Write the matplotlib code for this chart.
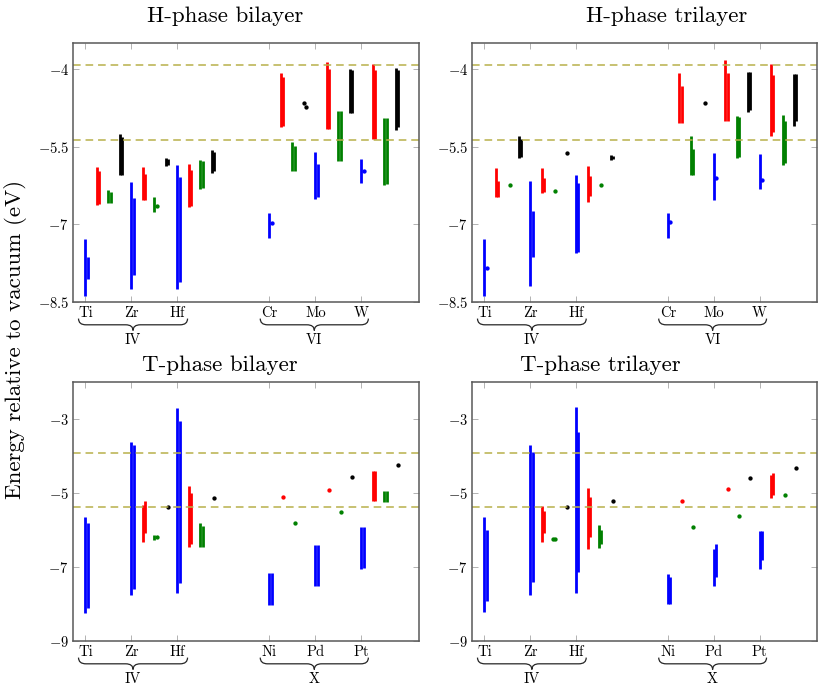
import numpy as np
import matplotlib
matplotlib.use("Agg")
import matplotlib.pyplot as plt
from matplotlib.path import Path
from matplotlib.patches import PathPatch
from matplotlib.transforms import blended_transform_factory

plt.rcParams['font.family'] = 'serif'
plt.rcParams['font.serif'] = ['cmr10']
plt.rcParams['mathtext.fontset'] = 'cm'
plt.rcParams['axes.unicode_minus'] = False

nan = np.nan

# element labels / group labels
elements_h = ['Ti', 'Zr', 'Hf', 'Cr', 'Mo', 'W']
elements_t = ['Ti', 'Zr', 'Hf', 'Ni', 'Pd', 'Pt']
groups_h = ['IV', 'VI']
groups_t = ['IV', 'X']
positions = [1, 2, 3, 5, 6, 7]

# dashed reference levels (eV)
ref_levels = [-3.93, -5.37]

# each entry: [top1, bottom1, top2, bottom2]  (top == bottom -> single point)
# H-phase bilayer
hb_blue = [[-7.29, -8.38, -7.64, -8.06], [-6.18, -8.25, -6.49, -7.98], [-5.86, -8.25, -6.08, -8.11],
           [-6.79, -7.27, -6.98, -6.98], [-5.61, -6.52, -5.84, -6.47], [-5.73, -6.21, -5.98, -5.98]]
hb_red = [[-5.90, -6.63, -5.98, -6.61], [-5.90, -6.53, -6.02, -6.53], [-5.84, -6.66, -5.95, -6.64],
          [-4.07, -5.13, -4.16, -5.10], [-3.86, -5.16, -4.01, -5.16], [-3.91, -5.35, -4.03, -5.35]]
hb_green = [[-6.34, -6.59, -6.37, -6.58], [-6.47, -6.76, -6.64, -6.64], [-5.75, -6.31, -5.78, -6.29],
            [-5.42, -5.97, -5.49, -5.97], [-4.81, -5.78, -4.81, -5.78], [-4.95, -6.25, -4.95, -6.22]]
hb_black = [[-5.26, -6.05, -5.32, -6.05], [-5.71, -5.87, -5.74, -5.86], [-5.57, -6.00, -5.60, -5.98],
            [-4.66, -4.66, -4.73, -4.73], [-4.00, -4.86, -4.03, -4.85], [-3.99, -5.18, -4.03, -5.12]]

# H-phase trilayer
ht_blue = [[-7.29, -8.38, -7.85, -7.85], [-6.16, -8.19, -6.74, -7.64], [-6.05, -7.55, -6.21, -7.53],
           [-6.79, -7.27, -6.96, -6.96], [-5.62, -6.54, -6.10, -6.10], [-5.65, -6.32, -6.14, -6.14]]
ht_red = [[-5.91, -6.48, -6.16, -6.47], [-5.92, -6.39, -6.10, -6.38], [-5.87, -6.56, -6.07, -6.45],
          [-4.07, -5.05, -4.33, -5.04], [-3.83, -5.01, -4.08, -5.01], [-3.91, -5.29, -4.12, -5.21]]
ht_green = [[nan, nan, -6.24, -6.24], [nan, nan, -6.35, -6.35], [nan, nan, -6.24, -6.24],
            [-5.30, -6.05, -5.55, -6.05], [-4.91, -5.71, -4.93, -5.70], [-4.89, -5.86, -5.01, -5.82]]
ht_black = [[-5.29, -5.71, -5.36, -5.70], [nan, nan, -5.63, -5.63], [-5.66, -5.76, -5.68, -5.74],
            [nan, nan, -4.66, -4.66], [-4.06, -4.84, -4.06, -4.79], [-4.10, -5.10, -4.10, -5.01]]

# T-phase bilayer
tb_blue = [[-5.64, -8.24, -5.82, -8.12], [-3.63, -7.76, -3.70, -7.60], [-2.69, -7.71, -3.05, -7.44],
           [-7.15, -8.03, -7.15, -8.03], [-6.41, -7.51, -6.41, -7.51], [-5.91, -7.05, -5.91, -7.02]]
tb_red = [[nan, nan, nan, nan], [-5.31, -6.32, -5.22, -6.07], [-4.81, -6.47, -4.99, -6.38],
          [nan, nan, -5.10, -5.10], [nan, nan, -4.92, -4.92], [-4.40, -5.22, -4.40, -5.22]]
tb_green = [[nan, nan, nan, nan], [-6.14, -6.27, -6.20, -6.20], [-5.80, -6.47, -5.89, -6.46],
            [nan, nan, -5.82, -5.82], [nan, nan, -5.52, -5.52], [-4.94, -5.25, -4.94, -5.25]]
tb_black = [[nan, nan, nan, nan], [nan, nan, -5.37, -5.37], [nan, nan, -5.14, -5.14],
            [nan, nan, nan, nan], [nan, nan, -4.56, -4.56], [nan, nan, -4.25, -4.25]]

# T-phase trilayer
tt_blue = [[-5.64, -8.21, -6.00, -7.92], [-3.70, -7.76, -3.88, -7.41], [-2.67, -7.71, -3.34, -7.13],
           [-7.19, -8.00, -7.26, -8.00], [-6.50, -7.50, -6.38, -7.28], [-6.02, -7.06, -6.02, -6.81]]
tt_red = [[nan, nan, nan, nan], [-5.35, -6.32, -5.49, -6.09], [-4.87, -6.51, -5.12, -6.20],
          [nan, nan, -5.21, -5.21], [nan, nan, -4.90, -4.90], [-4.51, -5.13, -4.47, -5.05]]
tt_green = [[nan, nan, nan, nan], [-6.23, -6.23, -6.23, -6.23], [-5.86, -6.48, -6.00, -6.39],
            [nan, nan, -5.93, -5.93], [nan, nan, -5.61, -5.61], [nan, nan, -5.05, -5.05]]
tt_black = [[nan, nan, nan, nan], [nan, nan, -5.37, -5.37], [nan, nan, -5.21, -5.21],
            [nan, nan, nan, nan], [nan, nan, -4.60, -4.60], [nan, nan, -4.33, -4.33]]

colors = ['#0000ff', '#ff0000', '#008000', '#000000']
offsets = [0.0, 0.25, 0.5, 0.75]
dx = 0.05


def brace(ax, x0, x1, label):
    tr = blended_transform_factory(ax.transData, ax.transAxes)
    ya, yb, yc = -0.064, -0.088, -0.11
    xm = (x0 + x1) / 2
    d = 0.16
    verts = [(x0, ya), (x0, yb), (x0 + d, yb), (xm - d, yb), (xm, yb), (xm, yc),
             (xm, yb), (xm + d, yb), (x1 - d, yb), (x1, yb), (x1, ya)]
    codes = [Path.MOVETO, Path.CURVE3, Path.CURVE3, Path.LINETO, Path.CURVE3, Path.CURVE3,
             Path.CURVE3, Path.CURVE3, Path.LINETO, Path.CURVE3, Path.CURVE3]
    ax.add_patch(PathPatch(Path(verts, codes), transform=tr, fill=False, lw=0.9,
                           edgecolor='0.15', clip_on=False))
    ax.text(xm, -0.148, label, transform=tr, ha='center', va='center', fontsize=10.5)


def panel(ax, series, names, groups, ylim, yticks, ylabels):
    for s, c, off in zip(series, colors, offsets):
        for pos, (t1, b1, t2, b2) in zip(positions, s):
            for x, t, b in ((pos + off, t1, b1), (pos + off + dx, t2, b2)):
                if np.isnan(t):
                    continue
                if t == b:
                    ax.plot(x, t, 'o', color=c, ms=2.1, mec=c)
                else:
                    ax.vlines(x, b, t, colors=c, lw=2.0)
    for lv in ref_levels:
        ax.axhline(lv, color='#b8b04a', lw=1.1, dashes=(5, 3.2))
    ax.set_xlim(0.73, 8.25)
    ax.set_ylim(*ylim)
    ax.set_xticks(positions)
    ax.set_xticklabels(names, fontsize=10.5)
    ax.set_yticks(yticks)
    ax.set_yticklabels(ylabels, fontsize=10.5)
    ax.tick_params(direction='in', top=True, right=True, length=4, width=0.6,
                   color='0.65', pad=3)
    for sp in ax.spines.values():
        sp.set_color('0.35')
        sp.set_linewidth(1.1)
    brace(ax, 0.85, 3.22, groups[0])
    brace(ax, 4.8, 7.15, groups[1])


fig = plt.figure(figsize=(8.22, 6.93), dpi=100)
ax1 = fig.add_axes([0.0888, 0.5642, 0.4209, 0.3737])
ax2 = fig.add_axes([0.5742, 0.5642, 0.4197, 0.3737])
ax3 = fig.add_axes([0.0888, 0.0750, 0.4209, 0.3737])
ax4 = fig.add_axes([0.5742, 0.0750, 0.4197, 0.3737])

yt_h = [-4, -5.5, -7, -8.5]
yl_h = ['$-4$', '$-5.5$', '$-7$', '$-8.5$']
yt_t = [-3, -5, -7, -9]
yl_t = ['$-3$', '$-5$', '$-7$', '$-9$']

panel(ax1, [hb_blue, hb_red, hb_green, hb_black], elements_h, groups_h, (-8.5, -3.5), yt_h, yl_h)
panel(ax2, [ht_blue, ht_red, ht_green, ht_black], elements_h, groups_h, (-8.5, -3.5), yt_h, yl_h)
panel(ax3, [tb_blue, tb_red, tb_green, tb_black], elements_t, groups_t, (-9, -2), yt_t, yl_t)
panel(ax4, [tt_blue, tt_red, tt_green, tt_black], elements_t, groups_t, (-9, -2), yt_t, yl_t)

fig.text(225 / 822, 1 - 16 / 693, 'H-phase bilayer', ha='center', va='center', fontsize=16.5)
fig.text(667 / 822, 1 - 16 / 693, 'H-phase trilayer', ha='center', va='center', fontsize=16.5)
fig.text(220 / 822, 1 - 365 / 693, 'T-phase bilayer', ha='center', va='center', fontsize=16.5)
fig.text(600 / 822, 1 - 365 / 693, 'T-phase trilayer', ha='center', va='center', fontsize=16.5)
fig.text(16 / 822, 0.51, 'Energy relative to vacuum (eV)', rotation=90,
         ha='center', va='center', fontsize=16.5)

fig.savefig('out.png', dpi=100)
